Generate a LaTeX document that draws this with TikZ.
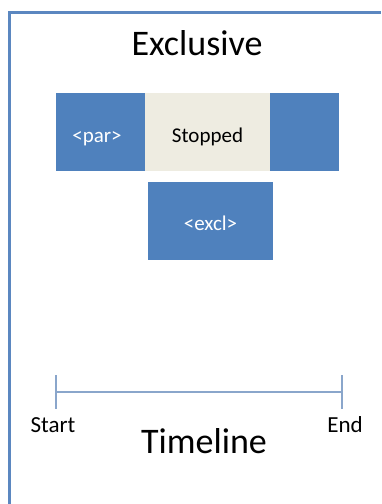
\documentclass[tikz,border=0pt]{standalone}
\usepackage{fontspec}
\setmainfont{Carlito}
\definecolor{offblue}{HTML}{4F81BD}
\definecolor{offgrey}{HTML}{EEECE1}
\definecolor{framec}{HTML}{5B87C0}
\definecolor{linec}{HTML}{8AA6CB}
\begin{document}
\begin{tikzpicture}[x=1pt,y=-1pt,
  blockbox/.style={rectangle,inner xsep=0pt,inner ysep=0pt,minimum height=78pt,text height=49pt,text depth=29pt,font=\fontsize{21}{21}\selectfont},
  bluebox/.style={blockbox,fill=offblue,text=white},
  greybox/.style={blockbox,fill=offgrey,text=black},
  tick/.style={draw=linec,line width=1.5pt},
  lbl/.style={anchor=base,inner sep=0pt,font=\fontsize{23}{23}\selectfont},
  bigtxt/.style={anchor=base,inner sep=0pt,font=\fontsize{36}{36}\selectfont}]
\useasboundingbox (0,0) rectangle (381,504);
\fill[white] (0,0) rectangle (381,504);
% frame
\draw[framec,line width=3pt] (9.5,504) -- (9.5,12) -- (381,12);
% title
\node[bigtxt] (title) at (197,55) {Exclusive};
% top bar
\node[bluebox,minimum width=89pt] (par) at (100.5,132) {\hspace*{-7pt}<par>};
\node[greybox,minimum width=125pt] (stopped) at (207.5,132) {Stopped};
\node[bluebox,minimum width=69pt] (rightbar) at (304.5,132) {};
% excl box
\node[bluebox,minimum width=125pt,text height=48pt,text depth=30pt] (excl) at (210.5,221) {<excl>};
% timeline
\coordinate (ls) at (56,392);
\coordinate (le) at (342,392);
\coordinate (lst) at (56,375);
\coordinate (lsb) at (56,409);
\coordinate (let) at (342,375);
\coordinate (leb) at (342,409);
\draw[tick] (ls) -- (le);
\draw[tick] (lst) -- (lsb);
\draw[tick] (let) -- (leb);
\node[lbl] (start) at (53,432) {Start};
\node[lbl] (end) at (345,432) {End};
\node[bigtxt] (timeline) at (204,453) {Timeline};
\end{tikzpicture}
\end{document}
